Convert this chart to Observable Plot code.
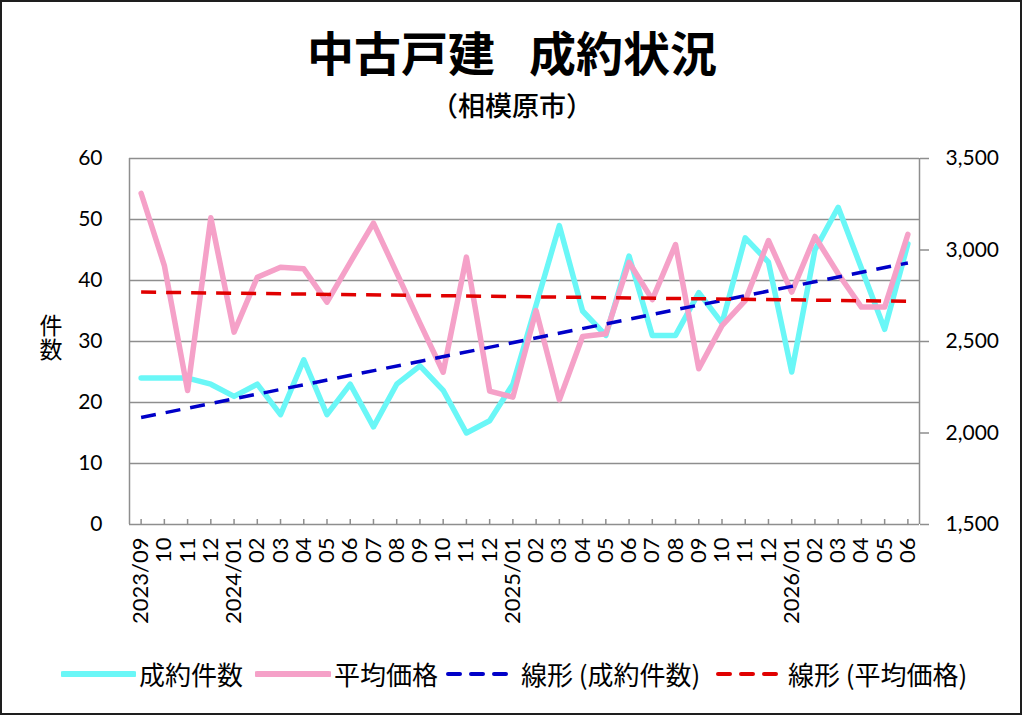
<!DOCTYPE html>
<html lang="ja">
<head>
<meta charset="utf-8">
<script src="https://cdn.jsdelivr.net/npm/d3@7"></script>
<script src="https://cdn.jsdelivr.net/npm/@observablehq/plot@0.6"></script>
<style>
  html, body { margin: 0; padding: 0; background: #fff; }
  body { width: 1024px; height: 716px; position: relative; overflow: hidden; font-family: "Noto Sans CJK JP", "Noto Sans", sans-serif; color: #000; }
  #frame { position: absolute; left: 0; top: 0; width: 1022px; height: 715px; box-sizing: border-box; border: 2px solid #1e1e1e; pointer-events: none; }
  #title { position: absolute; left: 0; width: 1024px; top: 21px; text-align: center; font-size: 47px; font-weight: 700; line-height: 60px; }
  #title .gap { display: inline-block; width: 34px; }
  #subtitle { position: absolute; left: 0; width: 1024px; top: 87px; text-align: center; font-size: 27px; font-weight: 500; line-height: 36px; }
  #chart { position: absolute; left: 0; top: 140px; }
  #ylabel { position: absolute; left: 38px; top: 314px; font-size: 23px; line-height: 26px; writing-mode: vertical-rl; text-orientation: upright; letter-spacing: 1px; }
  #legend { position: absolute; left: 0; top: 656px; width: 1024px; height: 40px; font-size: 26px; line-height: 36px; white-space: nowrap; }
  #legend .item { position: absolute; top: 0; display: flex; align-items: center; }
  #legend svg { margin-right: 3px; }
</style>
</head>
<body>
<div id="frame"></div>
<div id="title">中古戸建<span class="gap"></span>成約状況</div>
<div id="subtitle">（相模原市）</div>
<div id="ylabel">件数</div>
<div id="chart"></div>
<div id="legend"></div>
<script>
// ---- data ----
const xLabels = ["2023/09","10","11","12","2024/01","02","03","04","05","06","07","08","09","10","11","12",
                 "2025/01","02","03","04","05","06","07","08","09","10","11","12","2026/01","02","03","04","05","06"];
const counts = [24,24,24,23,21,23,18,27,18,23,16,23,26,22,15,17,23,36,49,35,31,44,31,31,38,33,47,43,25,45,52,42,32,46];
const prices = [3310,2915,2232,3176,2551,2851,2906,2897,2715,2933,3147,2875,2600,2332,2961,2229,2196,2669,2181,2527,2542,2933,2729,3030,2351,2587,2724,3052,2770,3074,2870,2688,2688,3085];
const leftTicks = [0,10,20,30,40,50,60];
const rightTicks = [1500,2000,2500,3000,3500];
const seriesNames = ["成約件数","平均価格","線形 (成約件数)","線形 (平均価格)"];
const colors = {count: "#6af7f7", price: "#f5a1c8", trendCount: "#0000c8", trendPrice: "#e00000"};

const rows = xLabels.map((label, i) => ({i, label, count: counts[i], price: prices[i]}));
const pMin = 1500, pMax = 3500, cMax = 60;
const toLeft = p => (p - pMin) / (pMax - pMin) * cMax;
const gray = "#8e8e8e";
const tickFont = "Lato, 'Noto Sans', sans-serif";

const chart = Plot.plot({
  width: 1024,
  height: 500,
  marginTop: 18,
  marginBottom: 116,
  marginLeft: 129,
  marginRight: 105,
  style: {fontFamily: tickFont, fontSize: "21px", color: "#000", background: "transparent", overflow: "visible"},
  x: {domain: [-0.5, xLabels.length - 0.5], axis: null},
  y: {domain: [0, cMax], axis: null},
  marks: [
    Plot.ruleY(leftTicks, {stroke: gray, strokeWidth: 1.5}),
    Plot.ruleX([-0.5, xLabels.length - 0.5], {stroke: gray, strokeWidth: 1.5}),
    // x tick marks (inside, upward)
    Plot.axisX({ticks: d3.range(xLabels.length), tickSize: 5, dy: -5, fill: "none", stroke: gray, strokeWidth: 1.5, label: null}),
    // x labels
    Plot.axisX({ticks: d3.range(xLabels.length), tickSize: 0, tickPadding: 13, tickRotate: -90,
      tickFormat: i => xLabels[i], fontSize: 22, fontFamily: tickFont, label: null}),
    // left axis
    Plot.axisY({ticks: leftTicks, tickSize: 0, tickPadding: 27, fontSize: 21, label: null}),
    // right axis
    Plot.axisY({anchor: "right", ticks: rightTicks.map(toLeft), tickSize: 9, tickPadding: 17, stroke: gray, strokeWidth: 1.5,
      tickFormat: v => d3.format(",")(Math.round(pMin + v / cMax * (pMax - pMin))), fontSize: 21, label: null}),
    Plot.line(rows, {x: "i", y: "count", stroke: colors.count, strokeWidth: 5.5}),
    Plot.line(rows, {x: "i", y: d => toLeft(d.price), stroke: colors.price, strokeWidth: 5.5}),
    Plot.linearRegressionY(rows, {x: "i", y: "count", stroke: colors.trendCount, strokeWidth: 3.5, strokeDasharray: "15,10", strokeLinecap: "butt", ci: 0}),
    Plot.linearRegressionY(rows, {x: "i", y: d => toLeft(d.price), stroke: colors.trendPrice, strokeWidth: 3.5, strokeDasharray: "15,10", strokeLinecap: "butt", ci: 0})
  ]
});
document.getElementById("chart").appendChild(chart);

// ---- legend ----
const legendItems = [
  {name: seriesNames[0], color: colors.count, dash: null, width: 6, left: 61, sw: 75},
  {name: seriesNames[1], color: colors.price, dash: null, width: 6, left: 255, sw: 76},
  {name: seriesNames[2], color: colors.trendCount, dash: "12,11", width: 4, left: 446, sw: 72},
  {name: seriesNames[3], color: colors.trendPrice, dash: "12,11", width: 4, left: 716, sw: 69}
];
const legend = document.getElementById("legend");
legendItems.forEach(it => {
  const item = document.createElement("div");
  item.className = "item";
  item.style.left = it.left + "px";
  const sw = it.sw;
  item.innerHTML = `<svg width="${sw}" height="12"><line x1="2" x2="${sw - 2}" y1="6" y2="6" stroke="${it.color}" stroke-width="${it.width}" stroke-linecap="round" ${it.dash ? `stroke-dasharray="${it.dash}"` : ""}/></svg><span>${it.name}</span>`;
  legend.appendChild(item);
});
</script>
</body>
</html>
